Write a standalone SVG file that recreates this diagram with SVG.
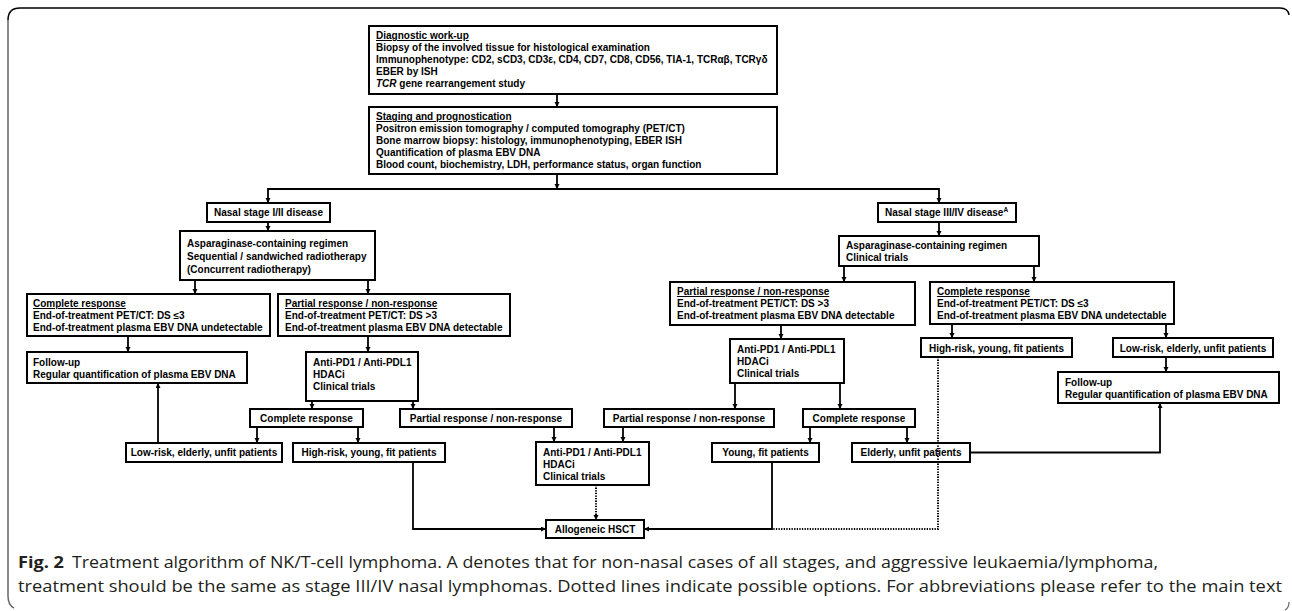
<svg xmlns="http://www.w3.org/2000/svg" width="1292" height="611" viewBox="0 0 1292 611">
<style>
.box{fill:#fff;stroke:#000;stroke-width:2}
.t{font-family:"Liberation Sans",Arial,sans-serif;font-size:10px;font-weight:bold;fill:#000}
.m{text-anchor:middle}
.u{text-decoration:underline}
.c{fill:none;stroke:#000;stroke-width:1.8}
.d{fill:none;stroke:#000;stroke-width:2;stroke-dasharray:1.3 1.3}
.cap{font-family:"Open Sans","Noto Sans","Liberation Sans",sans-serif;font-size:16px;fill:#231f20}
</style>
<defs>
<marker id="ah" markerUnits="userSpaceOnUse" markerWidth="6" markerHeight="6" refX="5" refY="2.5" orient="auto">
<path d="M0,0 L5,2.5 L0,5 z" fill="#000"/>
</marker>
</defs>

<g id="frame" fill="none">
<path d="M1280,8 H20 Q8,8 8,20" stroke="#000" stroke-width="1.5"/>
<path d="M8,20 V596 Q8,605 14,608" stroke="#666" stroke-width="1.5"/>
<path d="M1280,8 Q1288,8 1289,15" stroke="#000" stroke-width="1.5"/>
<path d="M1289,602 Q1289,608 1285,610" stroke="#666" stroke-width="1.2"/>
</g>

<g id="diagnostic">
<rect class="box" x="369" y="26" width="408" height="68"/>
<text class="t" x="376" y="39"><tspan class="u">Diagnostic work-up</tspan></text>
<text class="t" x="376" y="51">Biopsy of the involved tissue for histological examination</text>
<text class="t" x="376" y="63">Immunophenotype: CD2, sCD3, CD3ε, CD4, CD7, CD8, CD56, TIA-1, TCRαβ, TCRγδ</text>
<text class="t" x="376" y="75">EBER by ISH</text>
<text class="t" x="376" y="87"><tspan font-style="italic">TCR</tspan> gene rearrangement study</text>
</g>

<g id="staging">
<rect class="box" x="369" y="107" width="408" height="67"/>
<text class="t" x="376" y="120"><tspan class="u">Staging and prognostication</tspan></text>
<text class="t" x="376" y="132">Positron emission tomography / computed tomography (PET/CT)</text>
<text class="t" x="376" y="144">Bone marrow biopsy: histology, immunophenotyping, EBER ISH</text>
<text class="t" x="376" y="156">Quantification of plasma EBV DNA</text>
<text class="t" x="376" y="168">Blood count, biochemistry, LDH, performance status, organ function</text>
</g>

<g id="nasal-1-2">
<rect class="box" x="207" y="203" width="123" height="19"/>
<text class="t m" x="268.5" y="216">Nasal stage I/II disease</text>
</g>

<g id="nasal-3-4">
<rect class="box" x="878" y="203" width="138" height="19"/>
<text class="t" x="885" y="216">Nasal stage III/IV disease<tspan font-size="6.5" dy="-4">A</tspan></text>
</g>

<g id="asp-left">
<rect class="box" x="180" y="231" width="195" height="49"/>
<text class="t" x="187" y="247">Asparaginase-containing regimen</text>
<text class="t" x="187" y="260">Sequential / sandwiched radiotherapy</text>
<text class="t" x="187" y="273">(Concurrent radiotherapy)</text>
</g>

<g id="asp-right">
<rect class="box" x="839" y="236" width="200" height="30"/>
<text class="t" x="846" y="249">Asparaginase-containing regimen</text>
<text class="t" x="846" y="261">Clinical trials</text>
</g>

<g id="cr-left">
<rect class="box" x="27" y="294" width="243" height="42"/>
<text class="t" x="33" y="307"><tspan class="u">Complete response</tspan></text>
<text class="t" x="33" y="319">End-of-treatment PET/CT: DS ≤3</text>
<text class="t" x="33" y="331">End-of-treatment plasma EBV DNA undetectable</text>
</g>

<g id="pr-left">
<rect class="box" x="278" y="294" width="232" height="42"/>
<text class="t" x="285" y="307"><tspan class="u">Partial response / non-response</tspan></text>
<text class="t" x="285" y="319">End-of-treatment PET/CT: DS &gt;3</text>
<text class="t" x="285" y="331">End-of-treatment plasma EBV DNA detectable</text>
</g>

<g id="pr-right">
<rect class="box" x="670" y="282" width="245" height="43"/>
<text class="t" x="677" y="295"><tspan class="u">Partial response / non-response</tspan></text>
<text class="t" x="677" y="307">End-of-treatment PET/CT: DS &gt;3</text>
<text class="t" x="677" y="319">End-of-treatment plasma EBV DNA detectable</text>
</g>

<g id="cr-right">
<rect class="box" x="930" y="282" width="244" height="42"/>
<text class="t" x="937" y="295"><tspan class="u">Complete response</tspan></text>
<text class="t" x="937" y="307">End-of-treatment PET/CT: DS ≤3</text>
<text class="t" x="937" y="319">End-of-treatment plasma EBV DNA undetectable</text>
</g>

<g id="followup-left">
<rect class="box" x="27" y="352" width="220" height="31"/>
<text class="t" x="33" y="366">Follow-up</text>
<text class="t" x="33" y="378">Regular quantification of plasma EBV DNA</text>
</g>

<g id="antipd1-left">
<rect class="box" x="306" y="352" width="112" height="49"/>
<text class="t" x="313" y="366">Anti-PD1 / Anti-PDL1</text>
<text class="t" x="313" y="378">HDACi</text>
<text class="t" x="313" y="390">Clinical trials</text>
</g>

<g id="antipd1-right">
<rect class="box" x="730" y="339" width="114" height="44"/>
<text class="t" x="737" y="353">Anti-PD1 / Anti-PDL1</text>
<text class="t" x="737" y="365">HDACi</text>
<text class="t" x="737" y="377">Clinical trials</text>
</g>

<g id="highrisk-right">
<rect class="box" x="921" y="338" width="151" height="19"/>
<text class="t m" x="996.5" y="351.5">High-risk, young, fit patients</text>
</g>

<g id="lowrisk-right">
<rect class="box" x="1113" y="338" width="160" height="19"/>
<text class="t m" x="1193" y="351.5">Low-risk, elderly, unfit patients</text>
</g>

<g id="followup-right">
<rect class="box" x="1058" y="372" width="221" height="31"/>
<text class="t" x="1065" y="386">Follow-up</text>
<text class="t" x="1065" y="398">Regular quantification of plasma EBV DNA</text>
</g>

<g id="cr-small-left">
<rect class="box" x="250" y="409" width="113" height="18"/>
<text class="t m" x="306.5" y="422">Complete response</text>
</g>

<g id="pr-small-left">
<rect class="box" x="400" y="409" width="172" height="18"/>
<text class="t m" x="486" y="422">Partial response / non-response</text>
</g>

<g id="pr-small-right">
<rect class="box" x="604" y="409" width="170" height="18"/>
<text class="t m" x="689" y="422">Partial response / non-response</text>
</g>

<g id="cr-small-right">
<rect class="box" x="803" y="409" width="112" height="18"/>
<text class="t m" x="859" y="422">Complete response</text>
</g>

<g id="lowrisk-left">
<rect class="box" x="126" y="443" width="156" height="19"/>
<text class="t m" x="204" y="456">Low-risk, elderly, unfit patients</text>
</g>

<g id="highrisk-left">
<rect class="box" x="293" y="443" width="152" height="19"/>
<text class="t m" x="369" y="456">High-risk, young, fit patients</text>
</g>

<g id="antipd1-middle">
<rect class="box" x="536" y="442" width="113" height="43"/>
<text class="t" x="543" y="456">Anti-PD1 / Anti-PDL1</text>
<text class="t" x="543" y="468">HDACi</text>
<text class="t" x="543" y="480">Clinical trials</text>
</g>

<g id="young-fit">
<rect class="box" x="712" y="443" width="107" height="19"/>
<text class="t m" x="765.5" y="456">Young, fit patients</text>
</g>

<g id="elderly-unfit">
<rect class="box" x="852" y="443" width="118" height="19"/>
<text class="t m" x="911" y="456">Elderly, unfit patients</text>
</g>

<g id="allogeneic">
<rect class="box" x="546" y="520" width="98" height="18"/>
<text class="t m" x="595" y="533">Allogeneic HSCT</text>
</g>

<g id="connectors" marker-end="url(#ah)">
<path class="c" d="M557,94 V107" marker-end="url(#ah)"/>
<path class="c" d="M557,174 V189" marker-end="url(#ah)"/>
<path class="c" d="M557,189 H268 V203" marker-end="url(#ah)"/>
<path class="c" d="M557,189 H939 V203" marker-end="url(#ah)"/>
<path class="c" d="M268,222 V231" marker-end="url(#ah)"/>
<path class="c" d="M939,222 V236" marker-end="url(#ah)"/>
<path class="c" d="M195,280 V294" marker-end="url(#ah)"/>
<path class="c" d="M368,280 V294" marker-end="url(#ah)"/>
<path class="c" d="M844,266 V282" marker-end="url(#ah)"/>
<path class="c" d="M1034,266 V282" marker-end="url(#ah)"/>
<path class="c" d="M128,336 V352" marker-end="url(#ah)"/>
<path class="c" d="M368,336 V352" marker-end="url(#ah)"/>
<path class="c" d="M781,325 V339" marker-end="url(#ah)"/>
<path class="c" d="M952,324 V338" marker-end="url(#ah)"/>
<path class="c" d="M1166,324 V338" marker-end="url(#ah)"/>
<path class="c" d="M1166,357 V372" marker-end="url(#ah)"/>
<path class="c" d="M312,401 V409" marker-end="url(#ah)"/>
<path class="c" d="M413,401 V409" marker-end="url(#ah)"/>
<path class="c" d="M735,383 V409" marker-end="url(#ah)"/>
<path class="c" d="M840,383 V409" marker-end="url(#ah)"/>
<path class="c" d="M257,427 V443" marker-end="url(#ah)"/>
<path class="c" d="M358,427 V443" marker-end="url(#ah)"/>
<path class="c" d="M554,427 V442" marker-end="url(#ah)"/>
<path class="c" d="M623,427 V442" marker-end="url(#ah)"/>
<path class="c" d="M810,427 V443" marker-end="url(#ah)"/>
<path class="c" d="M907,427 V443" marker-end="url(#ah)"/>
<path class="c" d="M158,443 V383" marker-end="url(#ah)"/>
<path class="c" d="M970,452.5 H1160 V403" marker-end="url(#ah)"/>
<path class="c" d="M413,462 V529 H546" marker-end="url(#ah)"/>
<path class="c" d="M772,462 V529 H644" marker-end="url(#ah)"/>
<path class="d" d="M938,357 V529 H772" marker-end="none"/>
<path class="d" d="M596,485 V520" marker-end="url(#ah)"/>
</g>

<g id="caption">
<text class="cap" x="18" y="568" font-weight="bold" textLength="46" lengthAdjust="spacingAndGlyphs">Fig. 2</text>
<text class="cap" x="72" y="568" textLength="1086" lengthAdjust="spacingAndGlyphs">Treatment algorithm of NK/T-cell lymphoma. A denotes that for non-nasal cases of all stages, and aggressive leukaemia/lymphoma,</text>
<text class="cap" x="18" y="592" textLength="1264" lengthAdjust="spacingAndGlyphs">treatment should be the same as stage III/IV nasal lymphomas. Dotted lines indicate possible options. For abbreviations please refer to the main text</text>
</g>
</svg>
